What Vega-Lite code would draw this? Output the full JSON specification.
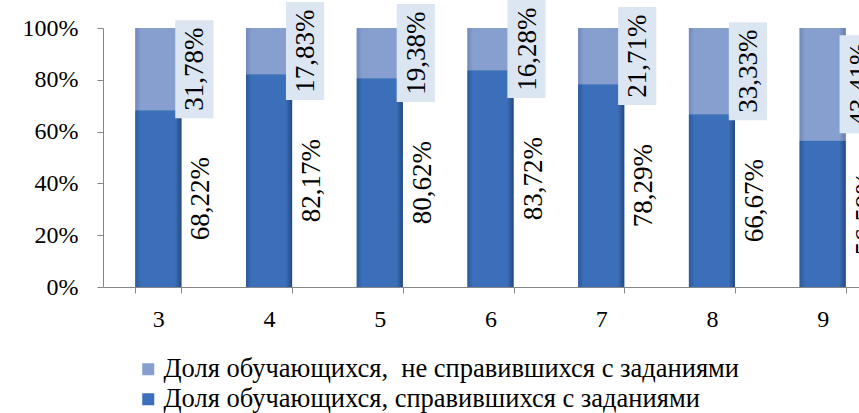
{
  "$schema": "https://vega.github.io/schema/vega-lite/v6.json",
  "width": 756,
  "height": 259,
  "autosize": {"type": "none"},
  "padding": {"left": 103, "top": 28, "right": 0, "bottom": 126},
  "background": "white",
  "config": {
    "locale": {"number": {"decimal": ",", "thousands": " ", "grouping": [3], "currency": ["", " ₽"], "percent": "%"}},
    "view": {"stroke": null},
    "font": "Liberation Serif",
    "axis": {"labelFont": "Liberation Serif", "labelFontSize": 24, "labelColor": "#000000", "domainColor": "#868686", "tickColor": "#868686", "tickSize": 6, "grid": false, "title": null},
    "legend": {"labelFont": "Liberation Serif", "labelFontSize": 26.5, "labelColor": "#000000", "labelLimit": 0}
  },
  "data": {"values": [
    {"class": "3", "series": "Доля обучающихся, справившихся с заданиями", "value": 0.6822},
    {"class": "3", "series": "Доля обучающихся,\u00a0 не справившихся с заданиями", "value": 0.3178},
    {"class": "4", "series": "Доля обучающихся, справившихся с заданиями", "value": 0.8217},
    {"class": "4", "series": "Доля обучающихся,\u00a0 не справившихся с заданиями", "value": 0.1783},
    {"class": "5", "series": "Доля обучающихся, справившихся с заданиями", "value": 0.8062},
    {"class": "5", "series": "Доля обучающихся,\u00a0 не справившихся с заданиями", "value": 0.1938},
    {"class": "6", "series": "Доля обучающихся, справившихся с заданиями", "value": 0.8372},
    {"class": "6", "series": "Доля обучающихся,\u00a0 не справившихся с заданиями", "value": 0.1628},
    {"class": "7", "series": "Доля обучающихся, справившихся с заданиями", "value": 0.7829},
    {"class": "7", "series": "Доля обучающихся,\u00a0 не справившихся с заданиями", "value": 0.2171},
    {"class": "8", "series": "Доля обучающихся, справившихся с заданиями", "value": 0.6667},
    {"class": "8", "series": "Доля обучающихся,\u00a0 не справившихся с заданиями", "value": 0.3333},
    {"class": "9", "series": "Доля обучающихся, справившихся с заданиями", "value": 0.5659},
    {"class": "9", "series": "Доля обучающихся,\u00a0 не справившихся с заданиями", "value": 0.4341}
  ]},
  "encoding": {
    "x": {
      "field": "class", "type": "ordinal",
      "scale": {"range": [0, 775], "paddingInner": 0.584, "paddingOuter": 0.292},
      "axis": {"labelAngle": 0, "tickBand": "extent", "labelPadding": 14}
    },
    "detail": {"field": "series"},
    "order": {"field": "series", "sort": "ascending"}
  },
  "layer": [
    {
      "mark": {"type": "bar"},
      "encoding": {
        "y": {
          "field": "value", "type": "quantitative", "stack": "zero",
          "scale": {"domain": [0, 1]},
          "axis": {"values": [0, 0.2, 0.4, 0.6, 0.8, 1], "format": ".0%", "labelPadding": 19}
        },
        "color": {
          "field": "series", "type": "nominal",
          "scale": {"domain": ["Доля обучающихся,\u00a0 не справившихся с заданиями", "Доля обучающихся, справившихся с заданиями"], "range": ["#869fcf", "#3b6fba"]},
          "legend": {"title": null, "orient": "none", "legendX": 32, "legendY": 328, "padding": 0, "symbolType": "square", "symbolSize": 144, "symbolStrokeWidth": 0, "rowPadding": 3, "labelOffset": 2}
        }
      }
    },
    {
      "mark": {"type": "bar", "fill": {"gradient": "linear", "x1": 0, "x2": 1, "y1": 0, "y2": 0, "stops": [{"offset": 0, "color": "#2c5a9c"}, {"offset": 0.12, "color": "#3b6fba"}, {"offset": 0.86, "color": "#3b6fba"}, {"offset": 1, "color": "#24497f"}]}},
      "encoding": {
        "y": {"field": "value", "type": "quantitative", "stack": "zero"},
        "opacity": {"condition": {"test": "datum.series !== 'Доля обучающихся, справившихся с заданиями'", "value": 0}, "value": 1}
      }
    },
    {
      "mark": {"type": "bar", "fill": {"gradient": "linear", "x1": 0, "x2": 1, "y1": 0, "y2": 0, "stops": [{"offset": 0, "color": "#7189bb"}, {"offset": 0.12, "color": "#869fcf"}, {"offset": 0.86, "color": "#869fcf"}, {"offset": 1, "color": "#657ca9"}]}},
      "encoding": {
        "y": {"field": "value", "type": "quantitative", "stack": "zero"},
        "opacity": {"condition": {"test": "datum.series !== 'Доля обучающихся, справившихся с заданиями'", "value": 1}, "value": 0}
      }
    },
    {
      "mark": {"type": "point", "filled": true, "shape": "M-0.39,-1H0.39V1H-0.39Z", "size": 9604, "color": "#dce6f2", "xOffset": 36, "strokeWidth": 0},
      "encoding": {
        "y": {"field": "value", "type": "quantitative", "stack": "zero", "bandPosition": 0.5},
        "opacity": {"condition": {"test": "datum.series !== 'Доля обучающихся, справившихся с заданиями'", "value": 1}, "value": 0}
      }
    },
    {
      "mark": {"type": "text", "angle": 270, "align": "center", "baseline": "middle", "dy": 37, "fontSize": 27},
      "encoding": {
        "y": {"field": "value", "type": "quantitative", "stack": "zero", "bandPosition": 0.5},
        "text": {"field": "value", "type": "quantitative", "format": ".2%"},
        "opacity": {"condition": {"test": "datum.series !== 'Доля обучающихся, справившихся с заданиями'", "value": 1}, "value": 0}
      }
    },
    {
      "mark": {"type": "text", "angle": 270, "align": "center", "baseline": "middle", "dy": 43, "fontSize": 27},
      "encoding": {
        "y": {"field": "value", "type": "quantitative", "stack": "zero", "bandPosition": 0.5},
        "text": {"field": "value", "type": "quantitative", "format": ".2%"},
        "opacity": {"condition": {"test": "datum.series !== 'Доля обучающихся, справившихся с заданиями'", "value": 0}, "value": 1}
      }
    }
  ]
}
